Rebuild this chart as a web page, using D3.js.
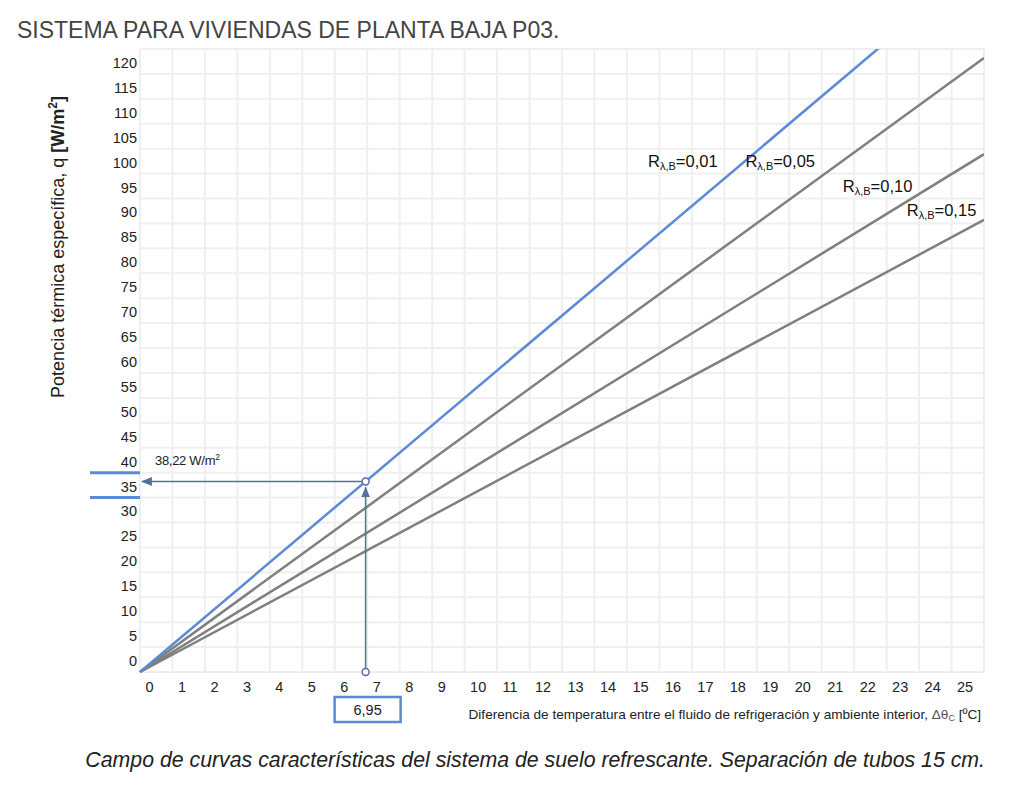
<!DOCTYPE html>
<html>
<head>
<meta charset="utf-8">
<script src="https://cdn.jsdelivr.net/npm/d3@7"></script>
<style>
  body { margin: 0; background: #fff; }
  text { font-family: "Liberation Sans", Arial, sans-serif; }
</style>
</head>
<body>
<div id="chart-area"></div>
<script>
// Curvas características: temperatura (ºC) vs potencia (W/m2)
const tempDiff = [0, 26]
const resistances = ['0,01', '0,05', '0,10', '0,15']
const q001 = [0, 143.0]
const q005 = [0, 123.2]
const q010 = [0, 103.9]
const q015 = [0, 90.7]
const xTicks = d3.range(0, 26)
const yTicks = d3.range(0, 125, 5)

// punto de lectura
const readTemp = 6.95
const readPower = 38.22

const width = 1024
const height = 802
const plot = { left: 140, right: 984, top: 49, bottom: 672 }

const svg = d3.select('#chart-area')
  .append('svg')
    .attr('width', width)
    .attr('height', height)

const x = d3.scaleLinear()
  .domain([0, 26])
  .range([plot.left, plot.right])

const y = d3.scaleLinear()
  .domain([0, 125])
  .range([plot.bottom, plot.top])

// rejilla
const grid = svg.append('g')
  .attr('stroke', '#efefef')
  .attr('stroke-width', 2)

grid.selectAll('.vx').data(d3.range(0, 27)).enter()
  .append('line')
    .attr('x1', d => x(d))
    .attr('x2', d => x(d))
    .attr('y1', y(0))
    .attr('y2', y(125))

grid.selectAll('.hy').data(yTicks.concat([125])).enter()
  .append('line')
    .attr('x1', x(0))
    .attr('x2', x(26))
    .attr('y1', d => y(d))
    .attr('y2', d => y(d))

// ejes (solo etiquetas)
const yAxis = svg.append('g')
  .attr('transform', `translate(${plot.left}, 0)`)
  .call(d3.axisLeft(y).tickValues(yTicks).tickSize(0).tickPadding(3))
yAxis.select('.domain').remove()
yAxis.selectAll('text')
  .attr('dy', '-0.45em')
  .attr('font-size', 14.5)
  .attr('fill', '#222')
  .attr('font-family', '"Liberation Sans", Arial, sans-serif')

const xAxis = svg.append('g')
  .attr('transform', `translate(0, ${plot.bottom})`)
  .call(d3.axisBottom(x).tickValues(xTicks).tickSize(0).tickPadding(0))
xAxis.select('.domain').remove()
xAxis.selectAll('text')
  .attr('text-anchor', 'start')
  .attr('x', 5)
  .attr('y', 20)
  .attr('dy', 0)
  .attr('font-size', 14.5)
  .attr('fill', '#222')
  .attr('font-family', '"Liberation Sans", Arial, sans-serif')

// curvas
svg.append('clipPath').attr('id', 'plot-clip')
  .append('rect')
    .attr('x', plot.left - 3)
    .attr('y', plot.top)
    .attr('width', plot.right - plot.left + 3)
    .attr('height', plot.bottom - plot.top + 3)

const series = [
  { name: resistances[0], values: q001, color: '#5b8ad6' },
  { name: resistances[1], values: q005, color: '#7f7f7f' },
  { name: resistances[2], values: q010, color: '#7f7f7f' },
  { name: resistances[3], values: q015, color: '#7f7f7f' }
]

const line = d3.line()
  .x(d => x(d[0]))
  .y(d => y(d[1]))

svg.append('g')
  .attr('clip-path', 'url(#plot-clip)')
  .selectAll('path').data(series.slice().reverse()).enter()
  .append('path')
    .attr('d', d => line(tempDiff.map((t, i) => [t, d.values[i]])))
    .attr('fill', 'none')
    .attr('stroke', d => d.color)
    .attr('stroke-width', 2.5)

// etiquetas de curvas
const labelSpots = [
  { x: 15.65, y: 101.3 },
  { x: 18.65, y: 101.3 },
  { x: 21.65, y: 96.3 },
  { x: 23.62, y: 91.5 }
]
series.forEach((s, i) => {
  const t = svg.append('text')
    .attr('x', x(labelSpots[i].x))
    .attr('y', y(labelSpots[i].y))
    .attr('font-family', '"Open Sans", Calibri, sans-serif')
    .attr('font-size', 16.5)
    .attr('fill', '#111')
  t.append('tspan').text('R')
  t.append('tspan').attr('font-size', 11).attr('dy', 3).text('λ,B')
  t.append('tspan').attr('dy', -3).text('=' + s.name)
})

// lectura
const arrowColor = '#52719f'
svg.append('defs').append('marker')
  .attr('id', 'arrow')
  .attr('viewBox', '0 0 10 10')
  .attr('refX', 9)
  .attr('refY', 5)
  .attr('markerWidth', 11)
  .attr('markerHeight', 11)
  .attr('markerUnits', 'userSpaceOnUse')
  .attr('orient', 'auto')
  .append('path')
    .attr('d', 'M0,1L10,5L0,9Z')
    .attr('fill', arrowColor)

svg.append('line')
  .attr('x1', x(readTemp))
  .attr('x2', x(0) + 2)
  .attr('y1', y(readPower))
  .attr('y2', y(readPower))
  .attr('stroke', arrowColor)
  .attr('stroke-width', 1.5)
  .attr('marker-end', 'url(#arrow)')

svg.append('line')
  .attr('x1', x(readTemp))
  .attr('x2', x(readTemp))
  .attr('y1', y(0))
  .attr('y2', y(readPower) + 6)
  .attr('stroke', arrowColor)
  .attr('stroke-width', 1.5)
  .attr('marker-end', 'url(#arrow)')

svg.selectAll('.pt').data([[readTemp, readPower], [readTemp, 0]]).enter()
  .append('circle')
    .attr('cx', d => x(d[0]))
    .attr('cy', d => y(d[1]))
    .attr('r', 3.5)
    .attr('fill', '#fff')
    .attr('stroke', arrowColor)
    .attr('stroke-width', 1.5)

// marcas azules sobre el eje y
svg.selectAll('.mk').data([35, 40]).enter()
  .append('line')
    .attr('x1', 90)
    .attr('x2', x(0))
    .attr('y1', d => y(d))
    .attr('y2', d => y(d))
    .attr('stroke', '#5b8ad6')
    .attr('stroke-width', 3)

const valText = svg.append('text')
  .attr('x', 155)
  .attr('y', y(readPower) - 17)
  .attr('font-size', 13)
  .attr('fill', '#222')
  .attr('letter-spacing', -0.3)
valText.append('tspan').text('38,22 W/m')
valText.append('tspan').attr('font-size', 8.5).attr('dy', -5).text('2')

svg.append('rect')
  .attr('x', x(readTemp) - 31)
  .attr('y', 697)
  .attr('width', 66)
  .attr('height', 25)
  .attr('fill', 'none')
  .attr('stroke', '#5b8ad6')
  .attr('stroke-width', 2.5)

svg.append('text')
  .attr('x', x(readTemp) + 2)
  .attr('y', 715)
  .attr('text-anchor', 'middle')
  .attr('font-size', 14.5)
  .attr('fill', '#222')
  .text('6,95')

// títulos
svg.append('text')
  .attr('x', 17)
  .attr('y', 38)
  .attr('font-family', 'Roboto, sans-serif')
  .attr('font-weight', 300)
  .attr('font-size', 23)
  .attr('fill', '#444')
  .text('SISTEMA PARA VIVIENDAS DE PLANTA BAJA P03.')

const yTitle = svg.append('text')
  .attr('transform', `translate(64, 247) rotate(-90)`)
  .attr('text-anchor', 'middle')
  .attr('font-size', 18)
  .attr('fill', '#222')
yTitle.append('tspan').text('Potencia térmica específica, q ')
yTitle.append('tspan').attr('font-weight', 'bold').text('[W/m')
yTitle.append('tspan').attr('font-weight', 'bold').attr('font-size', 12).attr('dy', -7).text('2')
yTitle.append('tspan').attr('font-weight', 'bold').attr('dy', 7).text(']')

const xTitle = svg.append('text')
  .attr('x', 981)
  .attr('y', 719)
  .attr('text-anchor', 'end')
  .attr('font-size', 13.6)
  .attr('fill', '#222')
xTitle.append('tspan').text('Diferencia de temperatura entre el fluido de refrigeración y ambiente interior, ')
xTitle.append('tspan').attr('fill', '#555').text('Δθ')
xTitle.append('tspan').attr('fill', '#555').attr('font-size', 9).attr('dy', 2).text('C')
xTitle.append('tspan').attr('dy', -2).text(' [ºC]')

svg.append('text')
  .attr('x', 985)
  .attr('y', 767)
  .attr('text-anchor', 'end')
  .attr('font-size', 21.3)
  .attr('font-style', 'italic')
  .attr('fill', '#222')
  .text('Campo de curvas características del sistema de suelo refrescante. Separación de tubos 15 cm.')
</script>
</body>
</html>
